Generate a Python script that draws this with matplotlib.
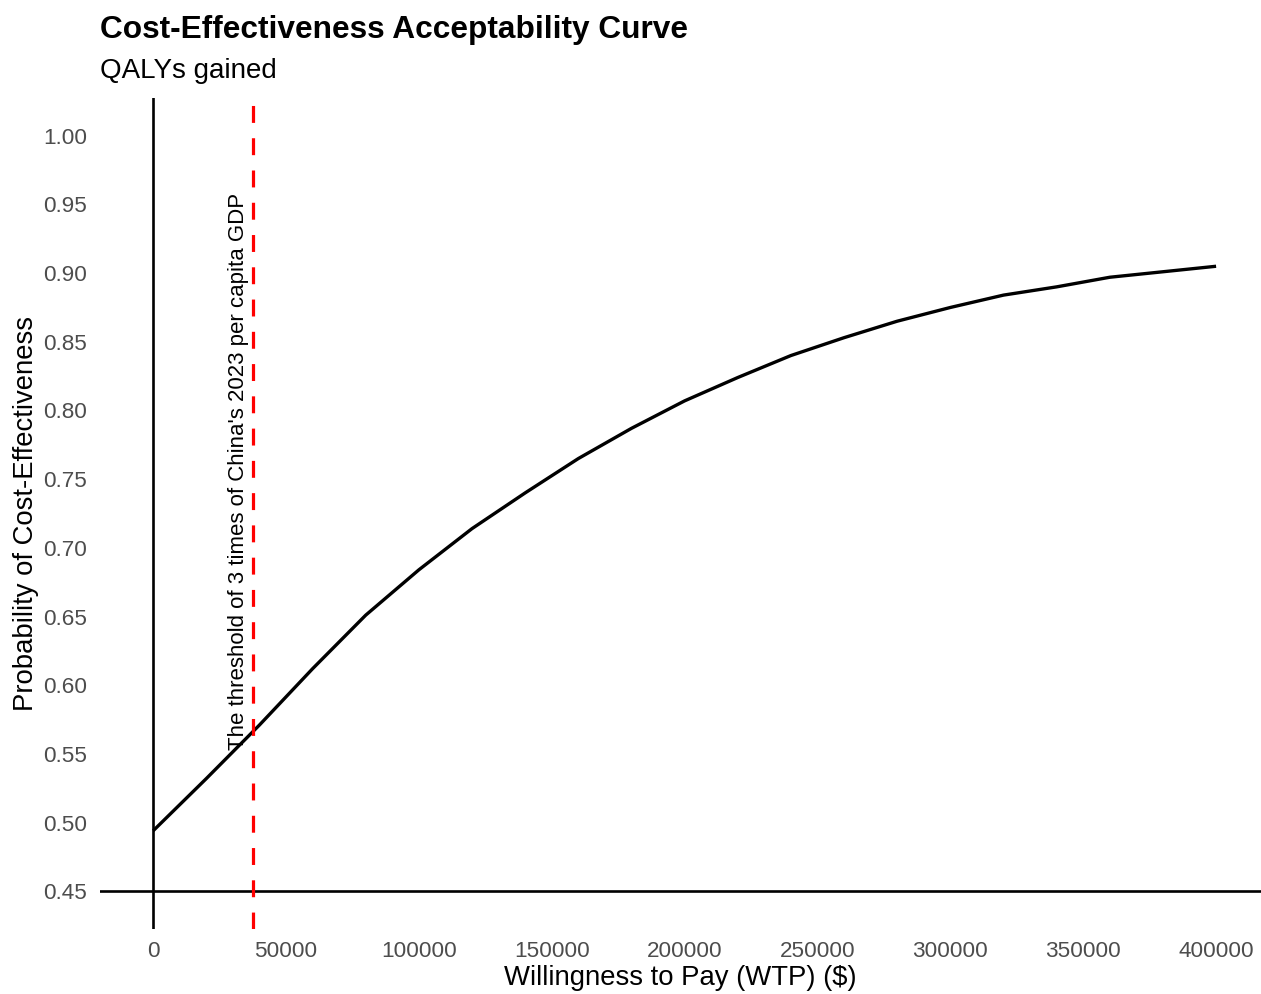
import matplotlib
matplotlib.use("Agg")
import matplotlib.pyplot as plt

plt.rcParams['font.family'] = ['Liberation Sans', 'DejaVu Sans']

# WTP grid and probability that the intervention is cost-effective
wtp = [0, 20000, 40000, 60000, 80000, 100000, 120000, 140000, 160000, 180000,
       200000, 220000, 240000, 260000, 280000, 300000, 320000, 340000, 360000,
       380000, 400000]
prob_ce = [0.494, 0.532, 0.571, 0.612, 0.651, 0.684, 0.714, 0.740, 0.765, 0.787,
           0.807, 0.824, 0.840, 0.853, 0.865, 0.875, 0.884, 0.890, 0.897,
           0.901, 0.905]

threshold = 37750  # 3 x China's 2023 per capita GDP (USD)
x_ticks = [0, 50000, 100000, 150000, 200000, 250000, 300000, 350000, 400000]
y_ticks = [0.45, 0.50, 0.55, 0.60, 0.65, 0.70, 0.75, 0.80, 0.85, 0.90, 0.95, 1.00]

W, H = 1261, 994
fig = plt.figure(figsize=(W / 100, H / 100), dpi=100)
# panel in pixels: left 100, right 1261, top 98, bottom 929
ax = fig.add_axes([100 / W, 1 - 929 / H, (W - 100) / W, (929 - 98) / H])

ax.plot(wtp, prob_ce, color='black', lw=2.4, solid_capstyle='butt', zorder=3)
ax.axvline(0, color='black', lw=1.9, zorder=2)
ax.axhline(0.45, color='black', lw=1.9, zorder=2)
ax.axvline(threshold, color='#ff0000', lw=2.3, dashes=(5.3, 4.8), zorder=4)

ax.text(32000, 0.7556, "The threshold of 3 times of China's 2023 per capita GDP",
        rotation=90, ha='center', va='center', fontsize=16, color='black')

ax.set_xlim(-20000, 416900)
ax.set_ylim(0.4225, 1.0275)
ax.set_xticks(x_ticks)
ax.set_xticklabels([str(v) for v in x_ticks])
ax.set_yticks(y_ticks)
ax.set_yticklabels([f"{v:.2f}" for v in y_ticks])
ax.tick_params(length=0, labelsize=16.2, labelcolor='#4d4d4d')
ax.tick_params(axis='x', pad=8.5)
ax.tick_params(axis='y', pad=9.5)
for s in ax.spines.values():
    s.set_visible(False)

ax.set_xlabel("Willingness to Pay (WTP) ($)", fontsize=19.8, labelpad=2.5)
ax.set_ylabel("Probability of Cost-Effectiveness", fontsize=19.8, labelpad=3)

fig.text(100 / W, 1 - 30 / H, "Cost-Effectiveness Acceptability Curve",
         fontsize=22.8, fontweight='bold', ha='left', va='center')
fig.text(100 / W, 1 - 71 / H, "QALYs gained", fontsize=20, ha='left', va='center')

fig.savefig("out.png", dpi=100)
